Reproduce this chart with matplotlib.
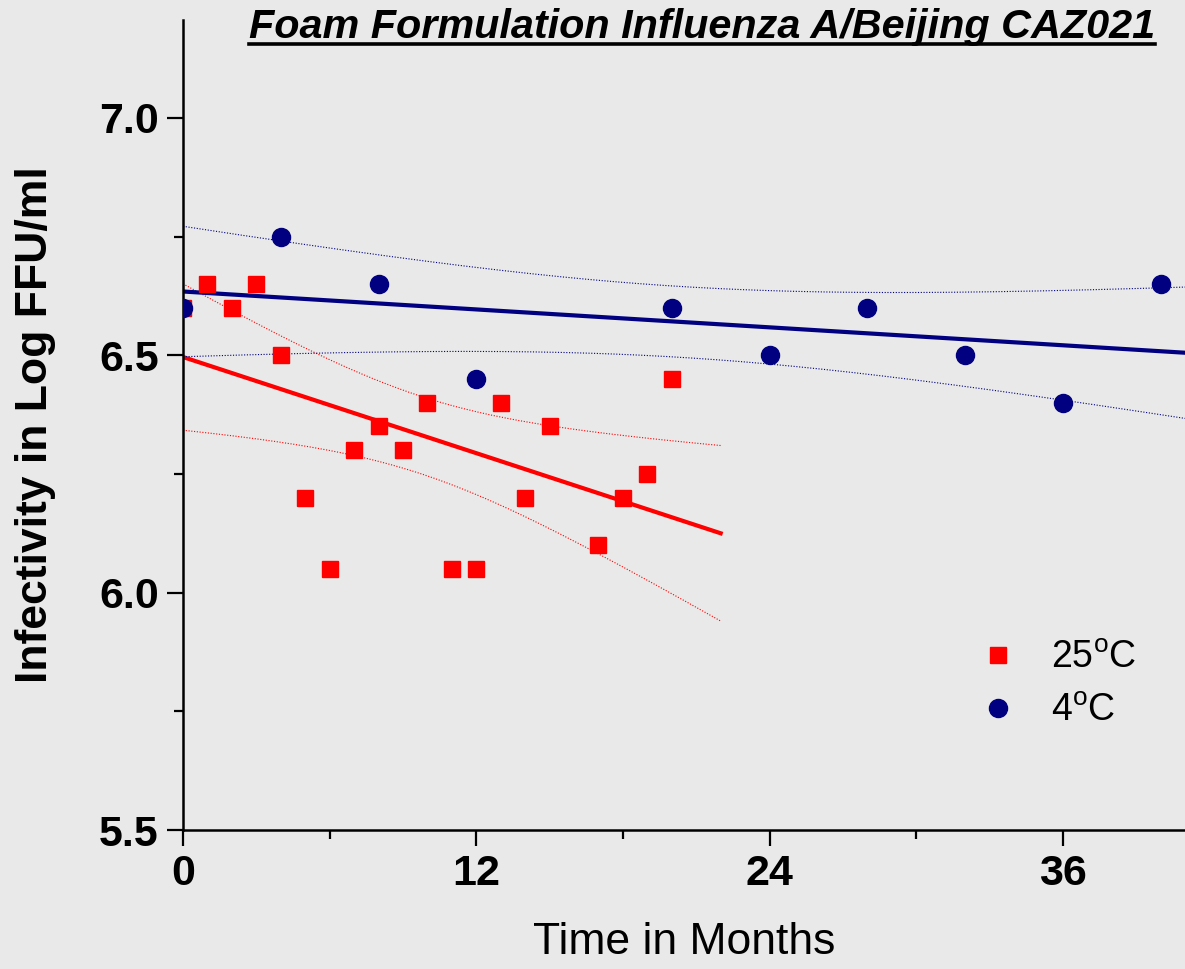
import numpy as np
import matplotlib
matplotlib.use('Agg')
import matplotlib.pyplot as plt
from matplotlib.lines import Line2D

plt.rcParams['font.family'] = ['Liberation Sans', 'DejaVu Sans']
plt.rcParams['mathtext.fontset'] = 'custom'
plt.rcParams['mathtext.rm'] = 'Liberation Sans'

# 25 C samples (months, log FFU/ml)
months_25 = [0, 1, 2, 3, 4, 5, 6, 7, 8, 9, 10, 11, 12, 13, 14, 15, 17, 18, 19, 20]
titer_25 = [6.60, 6.65, 6.60, 6.65, 6.50, 6.20, 6.05, 6.30, 6.35, 6.30,
            6.40, 6.05, 6.05, 6.40, 6.20, 6.35, 6.10, 6.20, 6.25, 6.45]

# 4 C samples
months_4 = [0, 4, 8, 12, 20, 24, 28, 32, 36, 40]
titer_4 = [6.60, 6.75, 6.65, 6.45, 6.60, 6.50, 6.60, 6.50, 6.40, 6.65]

x_ticks = [0, 12, 24, 36]
y_ticks = [5.5, 6.0, 6.5, 7.0]

bg = '#e8e9e8'
red = '#ff0000'
navy = '#000080'


def fit_with_band(x, y, xs, t_crit):
    # linear fit + 95% confidence band of the mean
    x = np.asarray(x, float)
    y = np.asarray(y, float)
    slope, icpt = np.polyfit(x, y, 1)
    resid = y - (slope * x + icpt)
    n = len(x)
    s = np.sqrt(np.sum(resid ** 2) / (n - 2))
    sxx = np.sum((x - x.mean()) ** 2)
    fit = slope * xs + icpt
    half = t_crit * s * np.sqrt(1.0 / n + (xs - x.mean()) ** 2 / sxx)
    return fit, fit - half, fit + half


fig = plt.figure(figsize=(11.85, 9.69), dpi=100, facecolor=bg)
ax = fig.add_axes([183 / 1185, 1 - 830 / 969, 1 - 183 / 1185, 810 / 969])
ax.set_facecolor(bg)

# regression lines
xs_25 = np.linspace(0, 22, 200)
fit25, lo25, hi25 = fit_with_band(months_25, titer_25, xs_25, 2.101)
ax.plot(xs_25, fit25, color=red, lw=3)
ax.plot(xs_25, lo25, color=red, lw=0.8, ls=(0, (1, 1.5)))
ax.plot(xs_25, hi25, color=red, lw=0.8, ls=(0, (1, 1.5)))

xs_4 = np.linspace(0, 41, 200)
fit4, lo4, hi4 = fit_with_band(months_4, titer_4, xs_4, 2.306)
ax.plot(xs_4, fit4, color=navy, lw=3)
ax.plot(xs_4, lo4, color=navy, lw=0.8, ls=(0, (1, 1.5)))
ax.plot(xs_4, hi4, color=navy, lw=0.8, ls=(0, (1, 1.5)))

ax.plot(months_25, titer_25, 's', color=red, ms=11.5, mec=red, label=r'25$^{\mathrm{o}}$C', zorder=3)
ax.plot(months_4, titer_4, 'o', color=navy, ms=13, mec=navy, label=r'4$^{\mathrm{o}}$C', zorder=4)

ax.set_xlim(0, 41)
ax.set_ylim(5.5, 7.206)
ax.set_xticks(x_ticks)
ax.set_xticklabels([str(v) for v in x_ticks])
ax.set_xticks([6, 18, 30], minor=True)
ax.set_yticks(y_ticks)
ax.set_yticklabels([f'{v:.1f}' for v in y_ticks])
ax.set_yticks([5.75, 6.25, 6.75], minor=True)

for side in ['top', 'right']:
    ax.spines[side].set_visible(False)
for side in ['left', 'bottom']:
    ax.spines[side].set_linewidth(1.8)

ax.tick_params(which='major', length=11.5, width=1.6, labelsize=31, pad=6)
ax.tick_params(which='minor', length=6.5, width=1.6)
for lbl in ax.get_xticklabels() + ax.get_yticklabels():
    lbl.set_fontweight('bold')

ax.set_xlabel('Time in Months', fontsize=32, labelpad=20)
ax.set_ylabel('Infectivity in Log FFU/ml', fontsize=32, fontweight='bold', labelpad=31)

ax.legend(loc='upper left', bbox_to_anchor=(942 / 1185, 1 - 606 / 969),
          bbox_transform=fig.transFigure, frameon=False, fontsize=27,
          handlelength=1.2, handletextpad=0.8, labelspacing=0.45, markerscale=1.0)

title = fig.text(702 / 1185, 1 - 38 / 969, 'Foam Formulation Influenza A/Beijing CAZ021',
                 ha='center', va='baseline', fontsize=29.8, fontweight='bold', style='italic')

# underline under the title
fig.canvas.draw()
bb = title.get_window_extent(fig.canvas.get_renderer())
x0, x1 = bb.x0 / fig.bbox.width, bb.x1 / fig.bbox.width
y_ul = 1 - 44 / 969
fig.add_artist(Line2D([x0, x1], [y_ul, y_ul], color='black', lw=2.6, transform=fig.transFigure))

fig.savefig('out.png', dpi=100, facecolor=bg)
